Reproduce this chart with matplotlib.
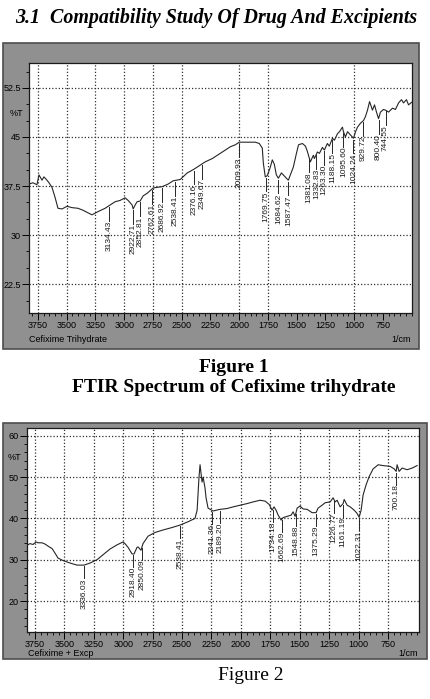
import numpy as np
import matplotlib
matplotlib.use('Agg')
import matplotlib.pyplot as plt
from matplotlib.patches import Rectangle

# ---- Figure 1 : Cefixime trihydrate (wavenumber 1/cm, %T)
wn1 = [3828, 3794, 3759, 3741, 3715, 3698, 3672, 3654, 3628, 3602,
	   3576, 3541, 3497, 3454, 3402, 3358, 3314, 3280, 3227, 3166,
	   3123, 3079, 3036, 2992, 2966, 2931, 2922, 2905, 2888, 2862,
	   2835, 2800, 2774, 2748, 2713, 2670, 2618, 2574, 2513, 2452,
	   2400, 2347, 2295, 2234, 2164, 2077, 2034, 2000, 1929, 1860,
	   1825, 1799, 1790, 1773, 1755, 1729, 1712, 1694, 1677, 1659,
	   1633, 1616, 1590, 1572, 1555, 1529, 1502, 1484, 1450, 1424,
	   1407, 1381, 1355, 1346, 1320, 1302, 1276, 1259, 1233, 1216,
	   1189, 1172, 1145, 1128, 1102, 1093, 1076, 1058, 1032, 1006,
	   988, 971, 945, 919, 902, 884, 866, 841, 823, 806,
	   788, 771, 745, 727, 701, 666, 641, 614, 588, 571,
	   545, 527, 500]
t1 = [37.8, 38.0, 37.7, 39.2, 38.4, 38.9, 38.4, 38.0, 37.3, 35.8,
	  34.1, 34.0, 34.4, 34.2, 34.1, 33.8, 33.4, 33.1, 33.6, 34.1,
	  34.6, 35.1, 35.3, 35.7, 35.3, 34.6, 34.0, 34.6, 35.1, 35.2,
	  36.0, 36.4, 36.8, 37.2, 37.3, 37.4, 37.8, 38.3, 38.5, 39.5,
	  40.0, 40.6, 41.2, 41.7, 42.5, 43.5, 43.8, 44.2, 44.2, 44.2,
	  44.0, 43.3, 41.0, 38.9, 39.1, 40.4, 41.5, 40.8, 39.2, 38.7,
	  39.5, 39.2, 38.7, 38.4, 39.2, 40.4, 42.5, 43.8, 44.0, 43.6,
	  42.8, 41.2, 42.2, 41.7, 42.7, 42.5, 43.4, 43.0, 44.0, 43.6,
	  44.8, 44.5, 45.5, 45.8, 46.5, 45.8, 45.0, 45.8, 45.3, 44.8,
	  45.8, 46.5, 47.1, 47.5, 48.1, 49.1, 50.4, 49.1, 49.9, 48.8,
	  47.8, 48.8, 49.2, 49.1, 48.8, 49.4, 49.2, 50.2, 50.7, 50.2,
	  50.7, 49.9, 50.3]
peak1_pos = [3132, 2922, 2862, 2757, 2670, 2557, 2395, 2325, 2001, 1764, 1659,
			 1572, 1393, 1328, 1262, 1189, 1093, 1006, 919, 788, 727]
peak1_txt = ['3134.43', '2922.71', '2852.81', '2762.61', '2686.92', '2538.41',
			 '2376.16', '2349.67', '2009.93', '1769.75', '1684.62', '1587.47',
			 '1381.08', '1332.83', '1263.30', '1188.15', '1095.60', '1024.24',
			 '929.72', '800.40', '744.55']
yticks1 = [22.5, 30, 37.5, 45, 52.5]
ylabels1 = ['22.5', '30', '37.5', '45', '52.5']
xgrid1 = [3750, 3500, 3250, 3000, 2750, 2500, 2000, 1750, 1000]

# ---- Figure 2 : Cefixime + excipients
wn2 = [3818, 3793, 3767, 3741, 3724, 3690, 3665, 3639, 3605, 3580,
	   3554, 3512, 3452, 3393, 3333, 3282, 3223, 3172, 3112, 3053,
	   3002, 2985, 2959, 2925, 2908, 2883, 2874, 2849, 2832, 2789,
	   2730, 2662, 2585, 2517, 2449, 2390, 2372, 2356, 2347, 2339,
	   2330, 2321, 2305, 2296, 2279, 2236, 2194, 2177, 2117, 2066,
	   2007, 1947, 1896, 1837, 1794, 1760, 1735, 1718, 1701, 1683,
	   1658, 1641, 1607, 1573, 1556, 1539, 1522, 1497, 1471, 1437,
	   1395, 1361, 1344, 1310, 1284, 1241, 1216, 1199, 1182, 1156,
	   1131, 1122, 1097, 1071, 1037, 1012, 995, 978, 961, 935,
	   910, 876, 833, 791, 731, 697, 680, 672, 655, 629,
	   587, 544, 502]
t2 = [33.5, 33.9, 33.7, 34.3, 34.1, 34.1, 33.8, 33.3, 32.7, 31.6,
	  30.4, 29.8, 29.2, 28.7, 28.7, 29.2, 30.0, 31.2, 32.6, 33.6,
	  34.3, 33.9, 33.0, 31.4, 31.4, 33.0, 33.1, 32.3, 33.9, 35.7,
	  36.6, 37.2, 37.8, 38.4, 39.2, 40.0, 42.0, 50.0, 53.0, 51.0,
	  48.8, 50.0, 47.4, 45.0, 42.5, 41.8, 42.1, 42.2, 42.4, 42.8,
	  43.2, 43.6, 44.0, 44.4, 44.2, 43.4, 42.0, 42.8, 42.0, 40.8,
	  39.6, 40.2, 40.5, 40.8, 41.6, 40.5, 42.5, 43.0, 42.3, 42.2,
	  41.4, 41.4, 42.5, 43.2, 43.8, 44.0, 45.0, 44.0, 44.4, 42.8,
	  43.6, 44.6, 43.2, 42.8, 42.0, 41.2, 40.3, 42.0, 45.7, 48.2,
	  50.1, 52.0, 53.0, 52.8, 52.6, 52.0, 51.4, 53.0, 51.4, 52.2,
	  51.8, 52.2, 52.8]
peak2_pos = [3333, 2917, 2840, 2517, 2245, 2177, 1726, 1650, 1531, 1361, 1207, 1131, 995, 680]
peak2_txt = ['3336.03', '2918.40', '2850.09', '2538.41', '2241.36', '2189.20', '1734.18',
			 '1662.69', '1548.88', '1375.29', '1226.77', '1161.19', '1022.31', '700.18']
yticks2 = [20, 30, 40, 50, 60]
ylabels2 = ['20', '30', '40', '50', '60']

xticks = [3750, 3500, 3250, 3000, 2750, 2500, 2250, 2000, 1750, 1500, 1250, 1000, 750]

W, H = 431, 699
fig = plt.figure(figsize=(W / 100, H / 100), dpi=100)
narrow = ['Liberation Sans Narrow', 'Liberation Sans', 'DejaVu Sans']
serif = 'Liberation Serif'


def box(x0, y0, x1, y1):
	# pixel box (top-left origin) -> figure fraction
	return [x0 / W, 1 - y1 / H, (x1 - x0) / W, (y1 - y0) / H]


def frame(x0, y0, x1, y1):
	r = box(x0, y0, x1, y1)
	fig.patches.append(Rectangle((r[0], r[1]), r[2], r[3], transform=fig.transFigure,
								 facecolor='#909090', edgecolor='#4d4d4d', lw=1.2, zorder=-5))


def spectrum(rect, wn, t, xlim, ylim, yticks, ylabels, ystep, xgrid, pos, txt, dash):
	ax = fig.add_axes(rect)
	ax.set_zorder(2)
	ax.set_facecolor('white')
	ax.set_xlim(*xlim)
	ax.set_ylim(*ylim)
	dots = (0, (1, 1.6))
	for g in yticks:
		ax.axhline(g, color='#303030', lw=0.9, ls=dots, zorder=1)
	for g in xgrid:
		ax.axvline(g, color='#303030', lw=0.9, ls=dots, zorder=1)
	ax.plot(wn, t, color='#262626', lw=0.8, zorder=3)

	ax.set_xticks(xticks)
	ax.set_xticklabels([str(v) for v in xticks], fontfamily=narrow, fontsize=6.5)
	ax.set_xticks(np.arange(500, 3850, 50), minor=True)
	ax.set_yticks(yticks)
	ax.set_yticklabels(ylabels, fontfamily=narrow, fontsize=6.5)
	ax.set_yticks(np.arange(ylim[0] - ylim[0] % ystep + ystep, ylim[1], ystep), minor=True)
	ax.tick_params(which='major', direction='out', length=5, width=0.7, pad=1)
	ax.tick_params(which='minor', direction='out', length=2.5, width=0.6)
	for s in ax.spines.values():
		s.set_linewidth(0.9)
		s.set_color('#1a1a1a')

	# peak labels with short leader line
	xs, ys = np.array(wn)[::-1], np.array(t)[::-1]
	for p, s in zip(pos, txt):
		y0 = np.interp(p, xs, ys) - dash * 0.1
		ax.plot([p, p], [y0, y0 - dash], color='#262626', lw=0.7, zorder=3)
		ax.text(p, y0 - dash, s, rotation=90, ha='center', va='top',
				fontsize=6.0, fontfamily=narrow, color='#1a1a1a', zorder=4)
	return ax


fig.text(216 / W, 1 - 18 / H, '3.1  Compatibility Study Of Drug And Excipients',
		 ha='center', va='center', fontfamily=serif, fontweight='bold', fontstyle='italic', fontsize=14.4)

# figure 1 panel
frame(3, 43, 419, 349)
spectrum(box(29, 63, 412, 313), wn1, t1, (3828, 497), (18.1, 56.3), yticks1, ylabels1, 2.5,
		 xgrid1, peak1_pos, peak1_txt, 2.1)
fig.text(10 / W, 1 - 113 / H, '%T', fontfamily=narrow, fontsize=6.5, va='center')
fig.text(29 / W, 1 - 339 / H, 'Cefixime Trihydrate', fontfamily=narrow, fontsize=6.5, va='center')
fig.text(411 / W, 1 - 339 / H, '1/cm', fontfamily=narrow, fontsize=6.5, va='center', ha='right')

fig.text(234 / W, 1 - 367 / H, 'Figure 1', ha='center', va='center',
		 fontfamily=serif, fontweight='bold', fontsize=14)
fig.text(234 / W, 1 - 387 / H, 'FTIR Spectrum of Cefixime trihydrate', ha='center', va='center',
		 fontfamily=serif, fontweight='bold', fontsize=14)

# figure 2 panel
frame(3, 423, 427, 659)
spectrum(box(27, 428, 419, 632), wn2, t2, (3818, 486), (12.5, 61.9), yticks2, ylabels2, 2,
		 xticks, peak2_pos, peak2_txt, 2.9)
fig.text(8 / W, 1 - 457 / H, '%T', fontfamily=narrow, fontsize=6.5, va='center')
fig.text(28 / W, 1 - 653 / H, 'Cefixime + Excp', fontfamily=narrow, fontsize=6.5, va='center')
fig.text(418 / W, 1 - 653 / H, '1/cm', fontfamily=narrow, fontsize=6.5, va='center', ha='right')

fig.text(251 / W, 1 - 675 / H, 'Figure 2', ha='center', va='center', fontfamily=serif, fontsize=14)

fig.savefig('out.png', dpi=100)
